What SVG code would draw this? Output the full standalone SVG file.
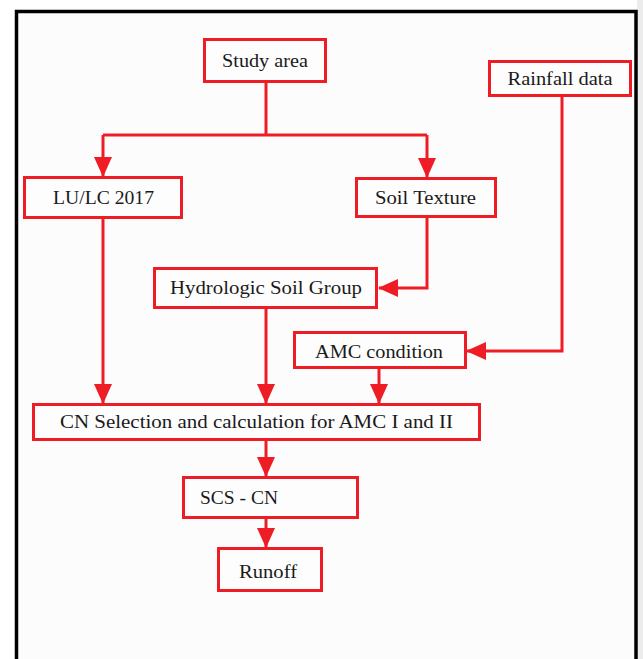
<svg xmlns="http://www.w3.org/2000/svg" width="643" height="659" viewBox="0 0 643 659">
<style>
.box{fill:#fdfdfd;stroke:#ee1c24;stroke-width:3}
.lbl{font-family:"Liberation Serif","Times New Roman",serif;font-size:18px;fill:#1a1a1a;text-anchor:middle}
.con{fill:none;stroke:#ee1c24;stroke-width:3;stroke-linejoin:miter}
</style>
<defs>
<marker id="ah" viewBox="0 0 20 18" refX="19" refY="9" markerWidth="20" markerHeight="18" markerUnits="userSpaceOnUse" orient="auto">
<path d="M0,0 L20,9 L0,18 z" fill="#ee1c24"/>
</marker>
</defs>
<rect x="0" y="0" width="643" height="659" fill="#ffffff"/>
<rect x="637" y="0" width="6" height="659" fill="#ececec"/>
<rect x="16.5" y="11.5" width="619.5" height="700" fill="#fcfcfc" stroke="#000" stroke-width="3.5"/>
<g id="connectors">
<path class="con" d="M266,83 V135 M103,135 H427"/>
<path class="con" d="M103,135 V176" marker-end="url(#ah)"/>
<path class="con" d="M427,135 V177" marker-end="url(#ah)"/>
<path class="con" d="M427,218 V288 H379" marker-end="url(#ah)"/>
<path class="con" d="M562,97 V351 H467" marker-end="url(#ah)"/>
<path class="con" d="M103,219 V403" marker-end="url(#ah)"/>
<path class="con" d="M266,309 V403" marker-end="url(#ah)"/>
<path class="con" d="M379,369 V403" marker-end="url(#ah)"/>
<path class="con" d="M266,441 V476" marker-end="url(#ah)"/>
<path class="con" d="M266,519 V547" marker-end="url(#ah)"/>
</g>
<g id="study-area">
<rect class="box" x="204.5" y="39.5" width="121" height="42"/>
<text class="lbl" x="265" y="67" textLength="86" lengthAdjust="spacingAndGlyphs">Study area</text>
</g>
<g id="rainfall-data">
<rect class="box" x="489.5" y="61.5" width="141" height="34"/>
<text class="lbl" x="560" y="85" textLength="105" lengthAdjust="spacingAndGlyphs">Rainfall data</text>
</g>
<g id="lulc-2017">
<rect class="box" x="24.5" y="177.5" width="157" height="40"/>
<text class="lbl" x="103.5" y="204" textLength="101" lengthAdjust="spacingAndGlyphs">LU/LC 2017</text>
</g>
<g id="soil-texture">
<rect class="box" x="356.5" y="178.5" width="139" height="38"/>
<text class="lbl" x="425.5" y="204" textLength="101" lengthAdjust="spacingAndGlyphs">Soil Texture</text>
</g>
<g id="hydrologic-soil-group">
<rect class="box" x="154.5" y="268.5" width="222" height="39"/>
<text class="lbl" x="266" y="294" textLength="192" lengthAdjust="spacingAndGlyphs">Hydrologic Soil Group</text>
</g>
<g id="amc-condition">
<rect class="box" x="294.5" y="332.5" width="171" height="35"/>
<text class="lbl" x="379" y="358" textLength="128" lengthAdjust="spacingAndGlyphs">AMC condition</text>
</g>
<g id="cn-selection">
<rect class="box" x="33.5" y="404.5" width="446" height="35"/>
<text class="lbl" x="256.5" y="428" textLength="393" lengthAdjust="spacingAndGlyphs">CN Selection and calculation for AMC I and II</text>
</g>
<g id="scs-cn">
<rect class="box" x="183.5" y="477.5" width="174" height="40"/>
<text class="lbl" x="239" y="504" textLength="78" lengthAdjust="spacingAndGlyphs">SCS - CN</text>
</g>
<g id="runoff">
<rect class="box" x="218.5" y="548.5" width="103" height="42"/>
<text class="lbl" x="268" y="578" textLength="58" lengthAdjust="spacingAndGlyphs">Runoff</text>
</g>
</svg>
